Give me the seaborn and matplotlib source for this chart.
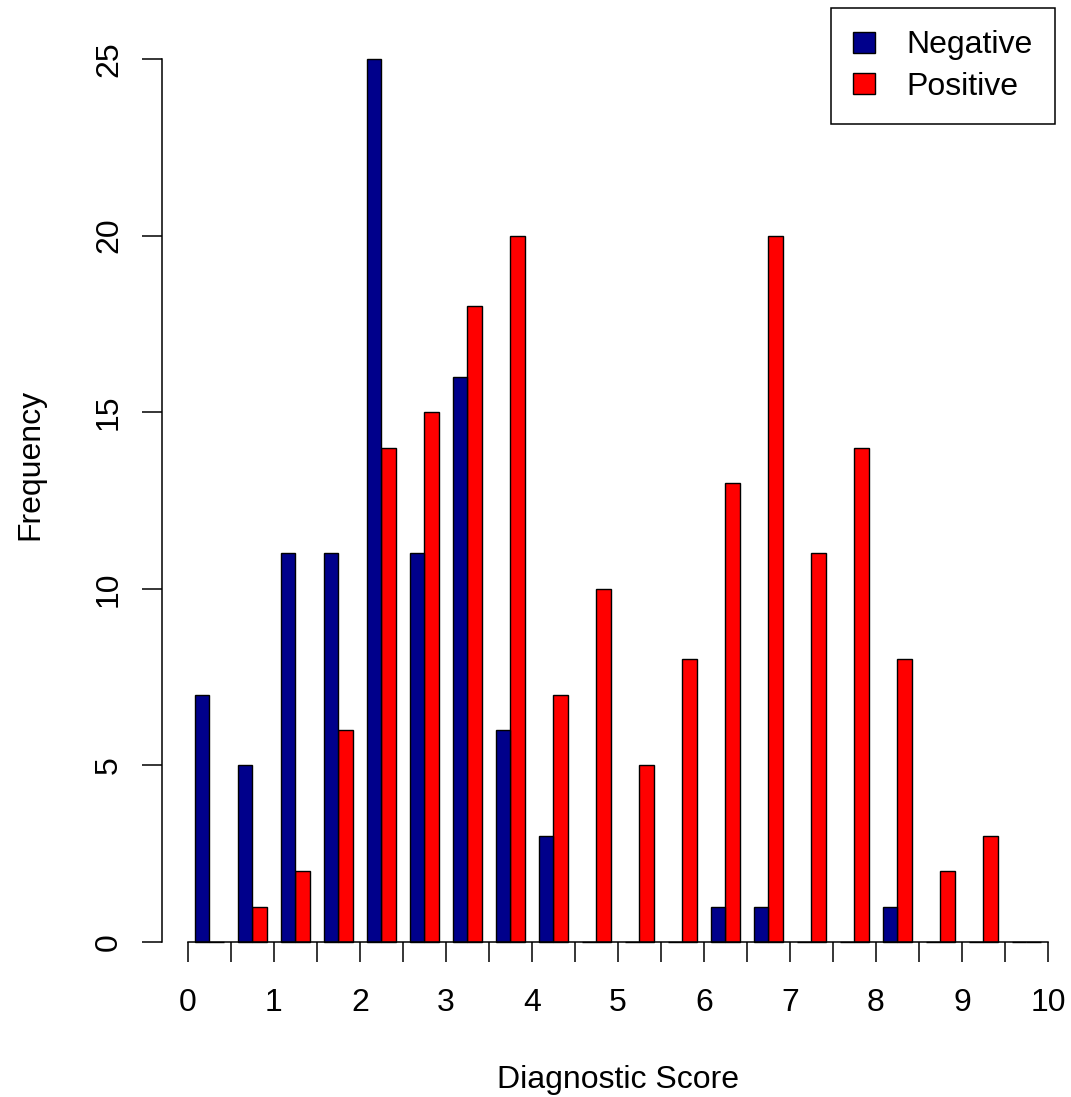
import numpy as np
import pandas as pd
import matplotlib
matplotlib.use("Agg")
import matplotlib.pyplot as plt
import seaborn as sns
from matplotlib.patches import Patch

# ---- data ----
bin_centers = [0.25, 0.75, 1.25, 1.75, 2.25, 2.75, 3.25, 3.75, 4.25, 4.75,
               5.25, 5.75, 6.25, 6.75, 7.25, 7.75, 8.25, 8.75, 9.25, 9.75]
negative = [7, 5, 11, 11, 25, 11, 16, 6, 3, 0, 0, 0, 1, 1, 0, 0, 1, 0, 0, 0]
positive = [0, 1, 2, 6, 14, 15, 18, 20, 7, 10, 5, 8, 13, 20, 11, 14, 8, 2, 3, 0]
groups = ["Negative", "Positive"]
colors = {"Negative": "#00008B", "Positive": "#FF0000"}
x_tick_values = [0, 0.5, 1, 1.5, 2, 2.5, 3, 3.5, 4, 4.5, 5, 5.5, 6, 6.5, 7, 7.5, 8, 8.5, 9, 9.5, 10]
x_tick_labels = ["0", "", "1", "", "2", "", "3", "", "4", "", "5", "", "6", "", "7", "", "8", "", "9", "", "10"]
y_tick_values = [0, 5, 10, 15, 20, 25]

df = pd.DataFrame({
    "score": bin_centers + bin_centers,
    "count": negative + positive,
    "group": ["Negative"] * len(negative) + ["Positive"] * len(positive),
})

sns.set_theme(style="ticks")
plt.rcParams["font.family"] = ["Liberation Sans", "DejaVu Sans"]
plt.rcParams["text.color"] = "black"
plt.rcParams["axes.labelcolor"] = "black"

fig = plt.figure(figsize=(10.71, 10.97), dpi=100)
ax = fig.add_axes([162 / 1071, 0.1091, 893 / 1071, 0.8835])

sns.histplot(data=df, x="score", weights="count", hue="group", hue_order=groups,
             bins=20, binrange=(0, 10), multiple="dodge", shrink=2 / 3,
             palette=colors, alpha=1, edgecolor="black", linewidth=1.0,
             legend=False, ax=ax)

ax.set_xlim(-0.3023, 10.0814)
ax.set_ylim(-1.0, 26.44)

for s in ["top", "right"]:
    ax.spines[s].set_visible(False)
ax.spines["bottom"].set_position(("data", 0))
ax.spines["bottom"].set_bounds(0, 10)
ax.spines["left"].set_bounds(0, 25)
for s in ["bottom", "left"]:
    ax.spines[s].set_linewidth(1.1)
    ax.spines[s].set_color("black")

ax.set_xticks(x_tick_values, x_tick_labels)
ax.set_yticks(y_tick_values, [str(v) for v in y_tick_values])
ax.tick_params(axis="x", length=14.4, width=1.1, pad=19, labelsize=23, colors="black")
ax.tick_params(axis="y", length=14.4, width=1.1, pad=13, labelsize=23, colors="black",
               labelrotation=90)
for lbl in ax.get_yticklabels():
    lbl.set_va("center")

ax.set_xlabel("")
ax.set_ylabel("")
fig.text(618.5 / 1071, (1097 - 1088) / 1097, "Diagnostic Score", fontsize=23,
         ha="center", va="baseline", color="black")
fig.text(38 / 1071, (1097 - 464) / 1097, "Frequency", fontsize=23, rotation=90,
         rotation_mode="anchor", ha="center", va="baseline", color="black")

handles = [Patch(facecolor=colors[g], edgecolor="black", linewidth=1.0) for g in groups]
leg = ax.legend(handles, groups, loc="upper right", bbox_to_anchor=(1, 1),
                borderaxespad=0, fontsize=23, frameon=True, fancybox=False,
                edgecolor="black", framealpha=1, handlelength=0.69, handleheight=0.63,
                handletextpad=0.97, borderpad=0.7, labelspacing=0.36)
leg.get_frame().set_linewidth(1.1)
for t in leg.get_texts():
    t.set_color("black")

fig.savefig("out.png", dpi=100)
